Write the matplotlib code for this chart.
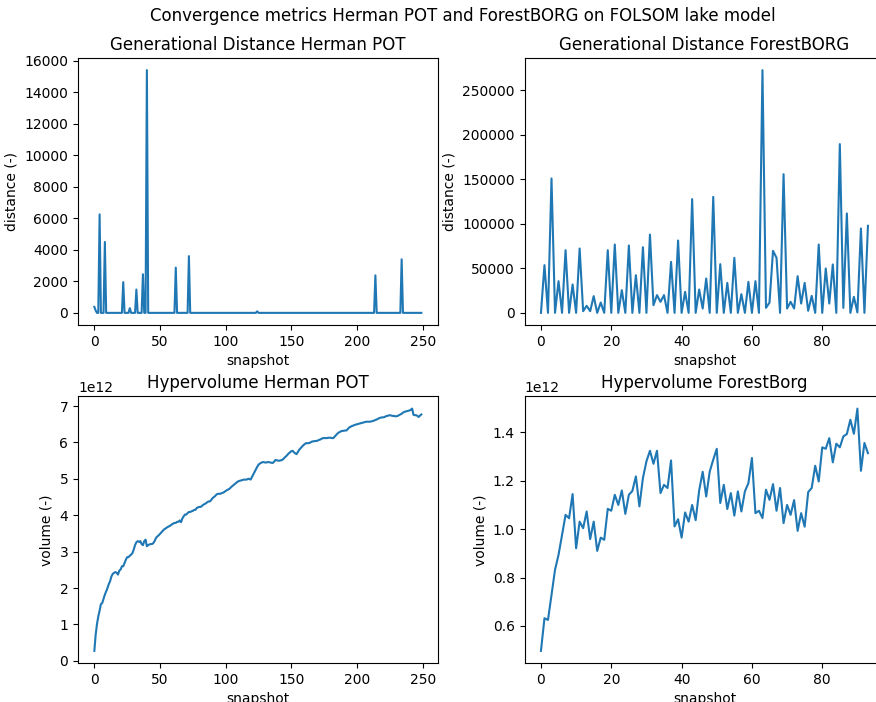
import numpy as np
import matplotlib
matplotlib.use("Agg")
import matplotlib.pyplot as plt

# Generational distance, Herman POT: flat at zero except for these snapshots
n_herman = 250
gd_herman_nonzero = {
    0: 380, 1: 150, 4: 6250, 8: 4500, 22: 1950, 27: 300, 32: 1480,
    37: 2450, 40: 15400, 62: 2870, 72: 3600, 124: 100, 214: 2380, 234: 3400,
}

# Generational distance, ForestBORG
gd_forest = [
    0, 53600, 0, 151000, 0, 35600, 0, 70400, 0, 31900,
    0, 72300, 1900, 7900, 1900, 18800, 0, 11600, 0, 70400,
    0, 76800, 0, 25500, 0, 75700, 0, 42300, 0, 73800,
    0, 88000, 8600, 19900, 12400, 19900, 0, 57300, 0, 81300,
    0, 23600, 0, 127800, 0, 26200, 4900, 38600, 0, 130300,
    0, 54700, 0, 33700, 0, 61800, 0, 21000, 0, 34800,
    0, 35600, 0, 272700, 5600, 11600, 69700, 61800, 0, 155800,
    4900, 12400, 4900, 41200, 10500, 33700, 2300, 19100, 0, 76800,
    0, 49900, 10500, 54400, 0, 189600, 5600, 111700, 0, 18000,
    500, 94800, 0, 97800,
]

# Hypervolume, Herman POT (units of 1e12)
hv_herman = [
    0.275, 0.716, 1.01, 1.22, 1.38, 1.56, 1.59, 1.71, 1.82, 1.91,
    2.00, 2.11, 2.19, 2.32, 2.39, 2.42, 2.44, 2.42, 2.37, 2.48,
    2.51, 2.60, 2.60, 2.69, 2.78, 2.85, 2.85, 2.89, 2.92, 2.96,
    3.06, 3.18, 3.26, 3.29, 3.27, 3.29, 3.21, 3.18, 3.29, 3.33,
    3.15, 3.18, 3.20, 3.21, 3.21, 3.24, 3.30, 3.38, 3.42, 3.45,
    3.49, 3.53, 3.57, 3.61, 3.63, 3.66, 3.68, 3.70, 3.72, 3.75,
    3.77, 3.79, 3.79, 3.82, 3.82, 3.86, 3.81, 3.91, 3.97, 4.02,
    4.02, 4.06, 4.09, 4.09, 4.11, 4.12, 4.15, 4.15, 4.20, 4.22,
    4.23, 4.23, 4.26, 4.29, 4.31, 4.33, 4.36, 4.38, 4.38, 4.42,
    4.47, 4.50, 4.53, 4.57, 4.59, 4.59, 4.59, 4.61, 4.62, 4.64,
    4.67, 4.69, 4.71, 4.73, 4.77, 4.80, 4.83, 4.86, 4.89, 4.92,
    4.94, 4.95, 4.96, 4.97, 4.98, 4.98, 4.98, 5.00, 5.00, 4.98,
    5.05, 5.12, 5.19, 5.26, 5.33, 5.39, 5.42, 5.44, 5.46, 5.46,
    5.45, 5.45, 5.46, 5.46, 5.45, 5.44, 5.44, 5.48, 5.52, 5.51,
    5.50, 5.50, 5.51, 5.52, 5.55, 5.59, 5.62, 5.66, 5.70, 5.73,
    5.76, 5.77, 5.73, 5.70, 5.68, 5.74, 5.80, 5.84, 5.88, 5.92,
    5.95, 5.98, 5.98, 5.98, 5.99, 6.01, 6.03, 6.03, 6.04, 6.04,
    6.05, 6.07, 6.08, 6.10, 6.12, 6.12, 6.12, 6.12, 6.13, 6.13,
    6.13, 6.12, 6.12, 6.16, 6.20, 6.24, 6.27, 6.29, 6.31, 6.32,
    6.32, 6.33, 6.33, 6.37, 6.41, 6.43, 6.45, 6.46, 6.48, 6.49,
    6.50, 6.51, 6.52, 6.53, 6.54, 6.55, 6.56, 6.57, 6.57, 6.57,
    6.57, 6.58, 6.59, 6.60, 6.62, 6.63, 6.65, 6.67, 6.68, 6.69,
    6.69, 6.70, 6.72, 6.73, 6.74, 6.75, 6.74, 6.73, 6.73, 6.72,
    6.72, 6.73, 6.75, 6.77, 6.79, 6.82, 6.84, 6.85, 6.86, 6.87,
    6.88, 6.90, 6.93, 6.76, 6.75, 6.75, 6.73, 6.70, 6.74, 6.77,
]

# Hypervolume, ForestBORG (units of 1e12)
hv_forest = [
    0.497, 0.632, 0.625, 0.728, 0.832, 0.894, 0.976, 1.059, 1.045, 1.145,
    0.921, 1.031, 1.004, 1.073, 0.959, 1.031, 0.910, 0.965, 0.956, 1.084,
    1.076, 1.142, 1.100, 1.160, 1.063, 1.142, 1.158, 1.218, 1.094, 1.211,
    1.280, 1.324, 1.270, 1.324, 1.149, 1.183, 1.170, 1.284, 1.011, 1.041,
    0.965, 1.069, 1.031, 1.100, 1.037, 1.160, 1.237, 1.135, 1.238, 1.287,
    1.332, 1.108, 1.183, 1.083, 1.149, 1.056, 1.156, 1.073, 1.156, 1.190,
    1.294, 1.066, 1.076, 1.046, 1.163, 1.121, 1.186, 1.076, 1.170, 1.025,
    1.100, 1.059, 1.120, 0.993, 1.066, 1.010, 1.153, 1.170, 1.262, 1.197,
    1.338, 1.332, 1.376, 1.276, 1.353, 1.338, 1.383, 1.393, 1.452, 1.394,
    1.498, 1.241, 1.356, 1.314,
]

gd_herman = np.zeros(n_herman)
for snap, val in gd_herman_nonzero.items():
    gd_herman[snap] = val

fig = plt.figure(figsize=(8.76, 7.02), dpi=100)
W, H = 876, 702


def axes_px(left, top, right, bottom):
    return fig.add_axes([left / W, 1 - bottom / H, (right - left) / W, (bottom - top) / H])


ax1 = axes_px(78, 58, 437.7, 325)
ax2 = axes_px(524.6, 58, 884.3, 325)
ax3 = axes_px(78, 396.5, 437.7, 663)
ax4 = axes_px(524.6, 396.5, 884.3, 663)

ax1.plot(np.arange(n_herman), gd_herman)
ax1.set(title="Generational Distance Herman POT", xlabel="snapshot", ylabel="distance (-)")

ax2.plot(np.arange(len(gd_forest)), gd_forest)
ax2.set(title="Generational Distance ForestBORG", xlabel="snapshot", ylabel="distance (-)")

ax3.plot(np.arange(len(hv_herman)), np.array(hv_herman) * 1e12)
ax3.set(title="Hypervolume Herman POT", xlabel="snapshot", ylabel="volume (-)")

ax4.plot(np.arange(len(hv_forest)), np.array(hv_forest) * 1e12)
ax4.set(title="Hypervolume ForestBorg", xlabel="snapshot", ylabel="volume (-)")

fig.suptitle("Convergence metrics Herman POT and ForestBORG on FOLSOM lake model",
             x=462.5 / W, y=1 - 7 / H, va="top")

fig.savefig("out.png", dpi=100)
